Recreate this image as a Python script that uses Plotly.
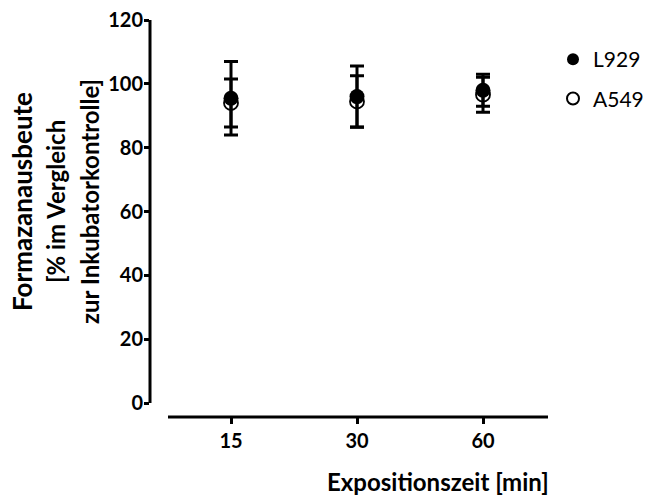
import plotly.graph_objects as go

times = ["15", "30", "60"]
x_pos = [0, 1, 2]
l929_mean = [95.5, 96.0, 98.0]
l929_sd = [11.5, 9.6, 5.0]
a549_mean = [94.0, 94.5, 96.6]
a549_sd = [7.5, 8.0, 5.5]
y_ticks = [0, 20, 40, 60, 80, 100, 120]

FONT = "Lato"

fig = go.Figure()
fig.add_trace(go.Scatter(
    x=x_pos, y=a549_mean, mode="markers", name="A549", legendrank=2,
    legendgroup="b",
    marker=dict(symbol="circle-open", size=14, color="black", line=dict(width=1.8, color="black")),
    error_y=dict(type="data", array=a549_sd, visible=True, color="black", thickness=3, width=7),
))
fig.add_trace(go.Scatter(
    x=x_pos, y=l929_mean, mode="markers", name="L929", legendrank=1,
    legendgroup="a",
    marker=dict(symbol="circle", size=15, color="black"),
    error_y=dict(type="data", array=l929_sd, visible=True, color="black", thickness=3, width=7),
))

L, R, T, B = 150, 101, 20, 78
W, H = 649, 495
pw, ph = W - L - R, H - T - B

fig.update_layout(
    width=W, height=H,
    margin=dict(l=L, r=R, t=T, b=B, pad=0, autoexpand=False),
    plot_bgcolor="white", paper_bgcolor="white",
    font=dict(family=FONT, color="black"),
    showlegend=True,
    legend=dict(x=(553 - L) / pw, xanchor="left", y=1 - (39 - T) / ph, yanchor="top",
                font=dict(size=21, family=FONT, color="black"), tracegroupgap=9,
                bgcolor="rgba(0,0,0,0)", itemsizing="constant"),
    xaxis=dict(range=[(150 - 231) / 126, (548 - 231) / 126], tickvals=x_pos, ticktext=times,
               showline=False, showgrid=False, zeroline=False, ticks="outside", ticklen=6,
               tickwidth=3, tickcolor="black",
               tickfont=dict(size=20, family=FONT, weight="bold", color="black")),
    yaxis=dict(range=[-14 / (383 / 120), 120], tickvals=y_ticks, showline=False, showgrid=False,
               zeroline=False, ticks="outside", ticklen=5, tickwidth=3, tickcolor="black",
               ticklabelstandoff=-3,
               tickfont=dict(size=20, family=FONT, weight="bold", color="black")),
)

fig.add_shape(type="line", xref="paper", yref="y", x0=0, x1=0, y0=0, y1=120,
              line=dict(color="black", width=3))
fig.add_shape(type="line", xref="x", yref="paper", x0=-0.5, x1=(548 - 231) / 126, y0=0, y1=0,
              line=dict(color="black", width=3))

fig.add_annotation(text="<b>Expositionszeit [min]</b>", xref="paper", yref="paper",
                   x=(438 - L) / pw, y=-(481 - (T + ph)) / ph, xanchor="center", yanchor="middle",
                   showarrow=False, font=dict(size=24, family=FONT, color="black"))

for txt, xc, fs in [("Formazanausbeute", 22, 26), ("[% im Vergleich", 56, 24),
                    ("zur Inkubatorkontrolle]", 90, 24)]:
    fig.add_annotation(text="<b>" + txt + "</b>", xref="paper", yref="paper",
                       x=(xc - L) / pw, y=1 - (202 - T) / ph, xanchor="center", yanchor="middle",
                       textangle=-90, showarrow=False, font=dict(size=fs, family=FONT, color="black"))

fig.write_html("out.html")
